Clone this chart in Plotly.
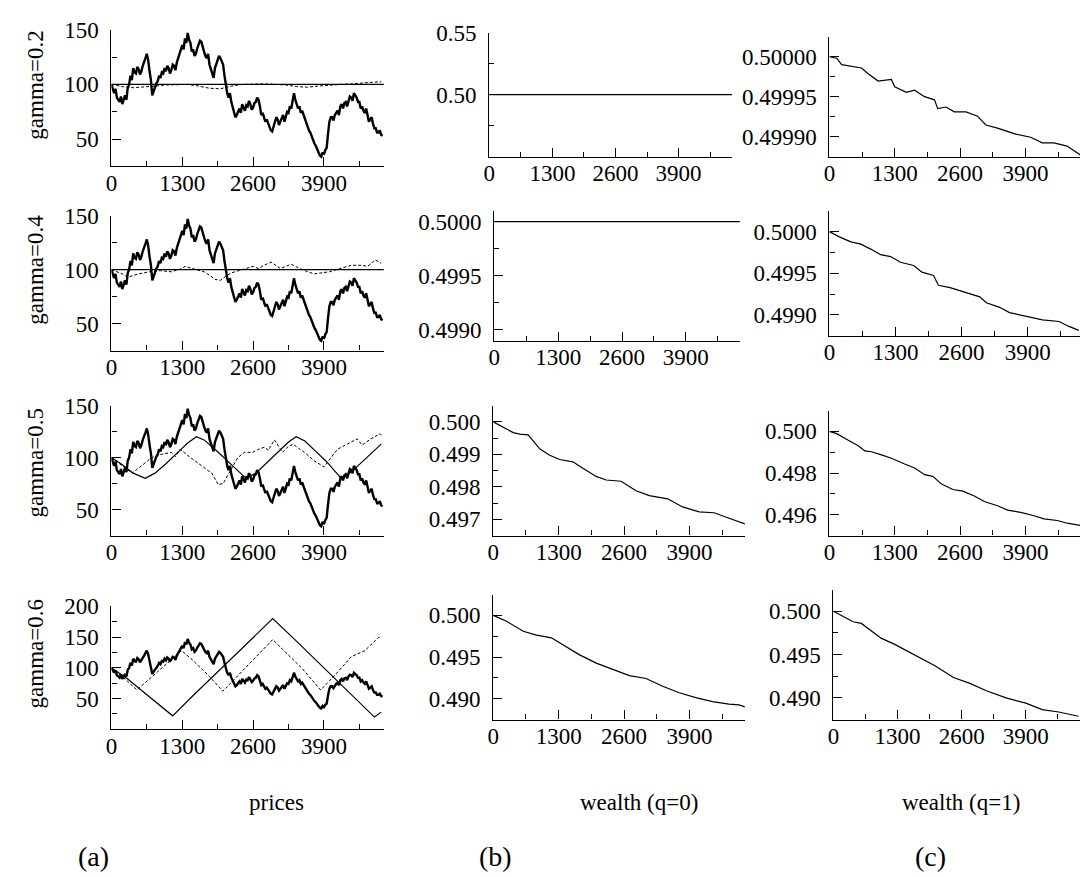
import plotly.graph_objects as go

W, H = 1080, 877

# ---------------- data ----------------
price_t = list(range(0, 5000, 25))
price = [100, 95, 92, 96, 88, 86, 84, 89, 82, 86, 90, 86, 97, 100, 108, 104, 115, 111, 110, 116,
         114, 109, 112, 117, 120, 124, 128, 122, 112, 104, 90, 94, 97, 101, 103, 108, 106, 111, 110, 115,
         112, 117, 115, 110, 113, 118, 117, 113, 120, 124, 128, 133, 136, 132, 142, 138, 147, 141, 138, 130,
         132, 126, 128, 133, 136, 140, 139, 133, 130, 126, 124, 128, 118, 114, 110, 106, 115, 119, 122, 126,
         124, 120, 118, 108, 98, 92, 88, 92, 84, 80, 76, 70, 72, 76, 78, 74, 82, 79, 76, 81,
         80, 85, 82, 77, 79, 83, 84, 88, 86, 80, 72, 74, 70, 66, 68, 64, 62, 58, 57, 61,
         64, 70, 68, 63, 66, 70, 72, 66, 70, 75, 74, 80, 78, 86, 92, 86, 82, 78, 80, 74,
         76, 72, 70, 65, 62, 58, 56, 52, 50, 46, 44, 40, 38, 35, 34, 38, 36, 40, 42, 55,
         66, 70, 70, 67, 72, 74, 76, 72, 80, 82, 78, 83, 84, 80, 86, 89, 88, 85, 92, 90,
         88, 84, 84, 78, 80, 76, 74, 78, 72, 66, 68, 70, 64, 60, 60, 56, 56, 58, 54, 53]

# gamma = 0.2
g02_solid_t = [0, 5000]
g02_solid = [100, 100]
g02_dash_t = [0, 200, 400, 600, 800, 1000, 1200, 1400, 1600, 1800, 2000, 2200, 2400, 2600,
              2800, 3000, 3200, 3400, 3600, 3800, 4000, 4200, 4400, 4600, 4800, 4950]
g02_dash = [100, 98, 97, 97.5, 98.5, 99.5, 100, 100, 98.5, 96.5, 96, 98.5, 100, 100.5,
            100.5, 100, 99.5, 98, 97.5, 98.5, 99.5, 100, 100.5, 101.5, 102, 102.5]

# gamma = 0.4
g04_solid_t = [0, 5000]
g04_solid = [100, 100]
g04_dash_t = [0, 200, 300, 500, 700, 900, 1100, 1300, 1350, 1500, 1700, 1800, 1900, 2000,
              2100, 2200, 2400, 2500, 2600, 2700, 2800, 2930, 3100, 3200, 3300, 3500, 3720,
              4000, 4200, 4400, 4600, 4700, 4840, 4950]
g04_dash = [100, 96, 93, 96, 98, 99, 98, 101, 103, 101, 98, 95, 91, 90,
            94, 97, 100, 102, 103, 101, 104, 107, 101, 103, 105, 100, 96,
            98, 101, 104, 104, 103, 109, 106]

# gamma = 0.5
g05_solid_t = [0, 200, 400, 620, 800, 1000, 1200, 1400, 1560, 1700, 1900, 2100, 2300, 2470,
               2650, 2850, 3050, 3250, 3390, 3550, 3750, 3950, 4100, 4220, 4400, 4600, 4800, 4950]
g05_solid = [100, 93, 85, 80, 85, 94, 104, 114, 120, 117, 108, 98, 88, 80,
             85, 95, 105, 115, 120, 116, 106, 96, 87, 80, 86, 96, 106, 113]
g05_dash_t = [0, 150, 380, 550, 740, 900, 1100, 1180, 1260, 1450, 1660, 1840, 1960, 2050,
              2190, 2320, 2440, 2590, 2700, 2810, 2880, 2990, 3140, 3230, 3330, 3540, 3720,
              3900, 4030, 4150, 4330, 4510, 4600, 4760, 4930, 4980]
g05_dash = [100, 94, 85, 92, 100, 103, 105, 101, 108, 100, 92, 85, 74, 75,
            88, 100, 105, 105, 108, 110, 107, 117, 105, 110, 113, 105, 97,
            91, 100, 108, 113, 118, 112, 118, 123, 120]

# gamma = 0.6
g06_solid_t = [0, 300, 600, 900, 1124, 1500, 2000, 2500, 2960, 3400, 3900, 4400, 4826, 4950]
g06_solid = [100, 82, 60, 38, 22, 55, 98, 140, 180, 143, 100, 57, 20, 28]
g06_dash_t = [0, 250, 468, 700, 900, 1100, 1288, 1500, 1800, 2044, 2300, 2600, 2960,
              3200, 3500, 3840, 4100, 4400, 4650, 4908, 4950]
g06_dash = [100, 82, 64, 82, 98, 113, 128, 112, 86, 62, 85, 113, 146,
            125, 99, 64, 88, 118, 128, 150, 148]

# wealth q=0
w0_g02_t = [0, 5000]
w0_g02 = [0.5, 0.5]
w0_g04_t = [0, 5000]
w0_g04 = [0.5, 0.5]
w0_g05_t = [0, 396, 528, 693, 923, 1121, 1319, 1583, 1781, 2045, 2243, 2540, 2837, 3101,
            3465, 3762, 4092, 4389, 4686, 5000]
w0_g05 = [0.50000, 0.49967, 0.49962, 0.49960, 0.49917, 0.49897, 0.49884, 0.49877, 0.49857,
          0.49832, 0.49821, 0.49817, 0.49788, 0.49773, 0.49763, 0.49738, 0.49723, 0.49720,
          0.49703, 0.49686]
w0_g06_t = [0, 264, 594, 858, 1155, 1386, 1716, 2046, 2376, 2706, 3036, 3366, 3696, 4026,
            4356, 4686, 4884, 5000]
w0_g06 = [0.5000, 0.49929, 0.49810, 0.49763, 0.49731, 0.49645, 0.49526, 0.49427, 0.49348,
          0.49277, 0.49242, 0.49150, 0.49071, 0.49012, 0.48965, 0.48934, 0.48926, 0.48902]

# wealth q=1
w1_g02_t = [0, 145, 244, 376, 640, 772, 969, 1233, 1299, 1530, 1695, 1893, 2090, 2156, 2321,
            2486, 2717, 2948, 3113, 3344, 3674, 4004, 4235, 4466, 4730, 4993]
w1_g02 = [0.500000, 0.499998, 0.499990, 0.4999886, 0.4999858, 0.4999785, 0.4999695, 0.4999715,
          0.4999622, 0.4999553, 0.4999581, 0.4999500, 0.4999460, 0.4999350, 0.4999370,
          0.4999310, 0.4999310, 0.4999256, 0.4999146, 0.4999106, 0.4999037, 0.4998992,
          0.4998923, 0.4998923, 0.4998882, 0.4998772]
w1_g04_t = [0, 195, 423, 618, 813, 1008, 1203, 1398, 1658, 1820, 2048, 2145, 2373, 2633,
            2958, 3088, 3348, 3543, 3868, 4193, 4518, 4713, 4908]
w1_g04 = [0.50000, 0.499937, 0.499877, 0.49985, 0.49979, 0.499723, 0.4997, 0.499632, 0.499593,
          0.499514, 0.499474, 0.499356, 0.499328, 0.499277, 0.499217, 0.499146, 0.499091,
          0.499028, 0.498988, 0.498941, 0.498921, 0.498862, 0.498814]
w1_g05_t = [0, 145, 376, 574, 706, 838, 1036, 1234, 1498, 1696, 1894, 2059, 2224, 2455, 2653,
            2884, 3082, 3346, 3544, 3808, 4072, 4270, 4534, 4732, 4996]
w1_g05 = [0.5, 0.49989, 0.49957, 0.49931, 0.49906, 0.49902, 0.49887, 0.49871, 0.49843, 0.49824,
          0.49792, 0.49784, 0.49748, 0.49721, 0.49713, 0.4969, 0.49663, 0.49643, 0.49622,
          0.49611, 0.49595, 0.4958, 0.49572, 0.49559, 0.49548]
w1_g06_t = [0, 200, 400, 567, 767, 967, 1233, 1500, 1767, 2067, 2433, 2767, 3100, 3500, 3900,
            4233, 4567, 4967]
w1_g06 = [0.5, 0.49936, 0.49879, 0.4986, 0.49773, 0.4969, 0.49621, 0.49538, 0.49462, 0.49367,
          0.49235, 0.49167, 0.49083, 0.49, 0.48939, 0.48864, 0.48837, 0.48788]

x_ticks = [0, 1300, 2600, 3900]
x_ticktext = ["0", "1300", "2600", "3900"]
row_labels = ["gamma=0.2", "gamma=0.4", "gamma=0.5", "gamma=0.6"]
col_titles = ["prices", "wealth (q=0)", "wealth (q=1)"]
col_letters = ["(a)", "(b)", "(c)"]

# ---------------- layout of the 12 panels (pixel boxes) ----------------
FONT = "Liberation Serif"
TICK_SIZE = 23
panels = [
    # column (a)
    dict(box=(106, 380, 18, 157), xr=[0, 5000], yr=[25, 150], yv=[50, 100, 150], yt=["50", "100", "150"], ydt=25, y0=0,
         series=[(price_t, price, "price"), (g02_dash_t, g02_dash, "dash"), (g02_solid_t, g02_solid, "thin")]),
    dict(box=(106, 380, 207, 344), xr=[0, 5000], yr=[25, 150], yv=[50, 100, 150], yt=["50", "100", "150"], ydt=25, y0=0,
         series=[(price_t, price, "price"), (g04_dash_t, g04_dash, "dash"), (g04_solid_t, g04_solid, "thin")]),
    dict(box=(106, 380, 400, 532), xr=[0, 5000], yr=[25, 150], yv=[50, 100, 150], yt=["50", "100", "150"], ydt=25, y0=0,
         series=[(price_t, price, "price"), (g05_dash_t, g05_dash, "dash"), (g05_solid_t, g05_solid, "thin")]),
    dict(box=(106, 380, 604, 729), xr=[0, 5000], yr=[0, 200], yv=[50, 100, 150, 200], yt=["50", "100", "150", "200"], ydt=25, y0=0,
         series=[(price_t, price, "price"), (g06_dash_t, g06_dash, "dash"), (g06_solid_t, g06_solid, "thin")]),
    # column (b)
    dict(box=(486, 730, 21, 147), xr=[0, 5000], yr=[0.45, 0.55], yv=[0.50, 0.55], yt=["0.50", "0.55"], ydt=0.025, y0=0.45,
         series=[(w0_g02_t, w0_g02, "thin")]),
    dict(box=(491, 738, 202, 334), xr=[0, 5000], yr=[0.4989, 0.5001], yv=[0.4990, 0.4995, 0.5000],
         yt=["0.4990", "0.4995", "0.5000"], ydt=0.00025, y0=0.4990,
         series=[(w0_g04_t, w0_g04, "thin")]),
    dict(box=(490, 743, 400, 532), xr=[0, 5000], yr=[0.4965, 0.5005], yv=[0.497, 0.498, 0.499, 0.500],
         yt=["0.497", "0.498", "0.499", "0.500"], ydt=0.0005, y0=0.4965,
         series=[(w0_g05_t, w0_g05, "thin")]),
    dict(box=(490, 743, 592, 719), xr=[0, 5000], yr=[0.4875, 0.5025], yv=[0.490, 0.495, 0.500],
         yt=["0.490", "0.495", "0.500"], ydt=0.0025, y0=0.4875,
         series=[(w0_g06_t, w0_g06, "thin")]),
    # column (c)
    dict(box=(828, 1080, 25, 147), xr=[0, 4986], yr=[0.499875, 0.500025], yv=[0.49990, 0.49995, 0.50000],
         yt=["0.49990", "0.49995", "0.50000"], ydt=0.000025, y0=0.499875,
         series=[(w1_g02_t, w1_g02, "thin")]),
    dict(box=(828, 1080, 202, 329), xr=[0, 4930], yr=[0.49875, 0.50025], yv=[0.4990, 0.4995, 0.5000],
         yt=["0.4990", "0.4995", "0.5000"], ydt=0.00025, y0=0.49875,
         series=[(w1_g04_t, w1_g04, "thin")]),
    dict(box=(828, 1080, 405, 532), xr=[0, 4986], yr=[0.495, 0.501], yv=[0.496, 0.498, 0.500],
         yt=["0.496", "0.498", "0.500"], ydt=0.001, y0=0.495,
         series=[(w1_g05_t, w1_g05, "thin")]),
    dict(box=(832, 1080, 587, 719), xr=[0, 4998], yr=[0.4875, 0.5025], yv=[0.490, 0.495, 0.500],
         yt=["0.490", "0.495", "0.500"], ydt=0.0025, y0=0.4875,
         series=[(w1_g06_t, w1_g06, "thin")]),
]

styles = {
    "price": dict(color="black", width=2.4),
    "dash": dict(color="black", width=1, dash="3px,2px"),
    "thin": dict(color="black", width=1.2),
}

fig = go.Figure()
layout = dict(width=W, height=H, margin=dict(l=0, r=0, t=0, b=0),
              paper_bgcolor="white", plot_bgcolor="white", showlegend=False,
              font=dict(family=FONT, size=TICK_SIZE, color="black"))

for i, p in enumerate(panels, start=1):
    xa = "x" if i == 1 else f"x{i}"
    ya = "y" if i == 1 else f"y{i}"
    l, r, t, b = p["box"]
    for xs, ys, kind in p["series"]:
        fig.add_trace(go.Scatter(x=xs, y=ys, mode="lines", line=styles[kind],
                                 xaxis=xa, yaxis=ya, hoverinfo="skip"))
    common = dict(showline=True, linecolor="black", linewidth=1.2, showgrid=False,
                  zeroline=False, ticks="inside", ticklen=9, tickwidth=1, tickcolor="black",
                  tickfont=dict(family=FONT, size=TICK_SIZE, color="black"), fixedrange=True)
    layout["xaxis" if i == 1 else f"xaxis{i}"] = dict(
        common, domain=[l / W, min(r / W, 1.0)], range=p["xr"], anchor=ya,
        tickmode="array", tickvals=x_ticks, ticktext=x_ticktext, ticklabelstandoff=-4,
        minor=dict(ticks="inside", ticklen=5, tickwidth=1, tickcolor="black", tick0=0, dtick=650))
    layout["yaxis" if i == 1 else f"yaxis{i}"] = dict(
        common, domain=[1 - b / H, 1 - t / H], range=p["yr"], anchor=xa,
        tickmode="array", tickvals=p["yv"], ticktext=p["yt"], ticklabelstandoff=7,
        minor=dict(ticks="inside", ticklen=5, tickwidth=1, tickcolor="black",
                   tick0=p["y0"], dtick=p["ydt"]))

ann = []
row_centers = [74, 262, 458, 652]
for lab, yc in zip(row_labels, row_centers):
    ann.append(dict(text=lab, x=30 / W, y=1 - yc / H, xref="paper", yref="paper",
                    textangle=-90, showarrow=False, xanchor="center", yanchor="middle",
                    font=dict(family=FONT, size=23, color="black")))
for lab, xc in zip(col_titles, [272, 637, 960]):
    ann.append(dict(text=lab, x=xc / W, y=1 - 803 / H, xref="paper", yref="paper",
                    showarrow=False, xanchor="center", yanchor="middle",
                    font=dict(family=FONT, size=23, color="black")))
for lab, xc in zip(col_letters, [88, 492, 930]):
    ann.append(dict(text=lab, x=xc / W, y=1 - 858 / H, xref="paper", yref="paper",
                    showarrow=False, xanchor="center", yanchor="middle",
                    font=dict(family=FONT, size=28, color="black")))
layout["annotations"] = ann

fig.update_layout(**layout)
fig.write_html("out.html")
